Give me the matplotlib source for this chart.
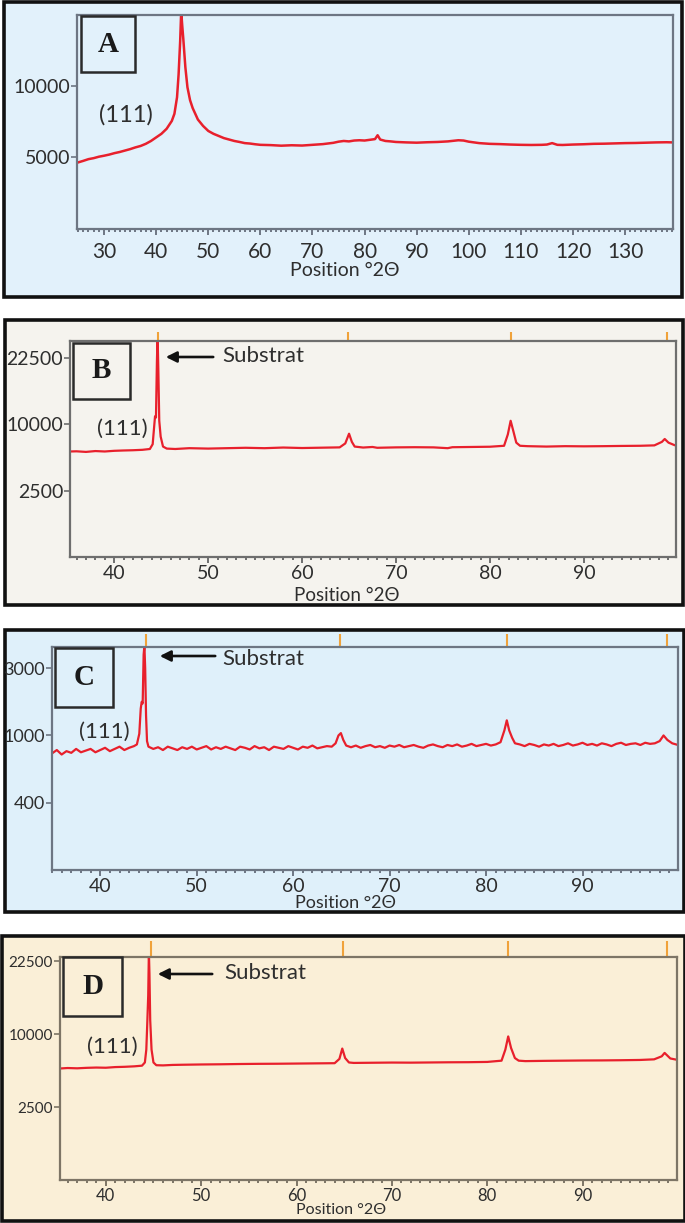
import numpy as np
import matplotlib
matplotlib.use("Agg")
import matplotlib.pyplot as plt
from matplotlib.patches import Rectangle, FancyArrowPatch
from matplotlib.ticker import FixedLocator, MultipleLocator, FormatStrFormatter

plt.rcParams['font.family'] = ['Lato', 'DejaVu Sans']

W, H = 685, 1223

# ---- data ----
a_x = [25, 26, 27, 28, 29, 30, 31, 32, 33, 34, 35, 36, 37, 38, 39, 40, 41, 42, 43, 43.5,
       44, 44.3, 44.6, 44.8, 45.0, 45.2, 45.6, 46, 46.5, 47, 48, 49, 50, 51, 52, 53, 54, 55,
       56, 57, 58, 59, 60, 62, 64, 66, 68, 70, 72, 74, 75, 76, 77, 78, 79, 80, 81, 82, 82.5,
       83, 84, 85, 86, 88, 90, 92, 94, 96, 98, 99, 100, 102, 104, 106, 108, 110, 112, 114,
       115, 116, 117, 118, 120, 122, 124, 126, 128, 130, 132, 134, 136, 138, 139]
a_y = [4650, 4760, 4880, 4950, 5050, 5120, 5200, 5300, 5380, 5480, 5580, 5700, 5800, 5950,
       6150, 6400, 6650, 7000, 7550, 8050, 9200, 10800, 13100, 15200, 14200, 13300, 11300,
       9900, 9000, 8450, 7650, 7200, 6850, 6650, 6500, 6350, 6250, 6150, 6080, 6000, 5970,
       5920, 5880, 5860, 5820, 5850, 5830, 5880, 5930, 6020, 6100, 6150, 6120, 6180, 6200,
       6180, 6230, 6280, 6550, 6250, 6150, 6120, 6080, 6050, 6030, 6060, 6080, 6120, 6200,
       6180, 6100, 6000, 5950, 5930, 5900, 5880, 5870, 5880, 5900, 6000, 5880, 5870, 5900,
       5920, 5950, 5960, 5980, 6000, 6010, 6030, 6050, 6060, 6050]

b_x = [35.3, 36, 37, 38, 39, 40, 41, 42, 43, 43.8, 44.1, 44.25, 44.35, 44.45, 44.55, 44.62,
       44.7, 44.8, 44.95, 45.2, 45.6, 46.5, 48, 50, 52, 54, 56, 58, 60, 62, 64, 64.6, 65.0,
       65.3, 65.6, 66.5, 67.5, 68, 70, 72, 74, 75.5, 76, 78, 80, 81.5, 81.9, 82.2, 82.5, 82.8,
       83.2, 84, 86, 88, 90, 92, 94, 96, 97.5, 98.3, 98.6, 99, 99.6]
b_y = [6300, 6320, 6250, 6350, 6300, 6380, 6420, 6450, 6500, 6600, 7200, 9500, 11200, 11000,
       21500, 28000, 20000, 10500, 8200, 6900, 6650, 6600, 6700, 6650, 6700, 6750, 6700,
       6780, 6720, 6760, 6800, 7300, 8600, 7500, 6900, 6780, 6850, 6750, 6800, 6820, 6800,
       6700, 6820, 6850, 6880, 7000, 8500, 10500, 8900, 7400, 7000, 6950, 6900, 6950, 6930,
       6950, 6980, 7000, 7050, 7500, 7880, 7400, 7100]

c_x = [35, 35.5, 36, 36.5, 37, 37.5, 38, 38.5, 39, 39.5, 40, 40.5, 41, 41.5, 42, 42.5, 43,
       43.5, 43.8, 44.05, 44.2, 44.3, 44.4, 44.5, 44.58, 44.66, 44.75, 44.85, 45.0, 45.5, 46,
       46.5, 47, 47.5, 48, 48.5, 49, 49.5, 50, 50.5, 51, 51.5, 52, 52.5, 53, 53.5, 54, 54.5,
       55, 55.5, 56, 56.5, 57, 57.5, 58, 58.5, 59, 59.5, 60, 60.5, 61, 61.5, 62, 62.5, 63,
       63.5, 64, 64.4, 64.7, 64.95, 65.2, 65.5, 66, 66.5, 67, 67.5, 68, 68.5, 69, 69.5, 70,
       70.5, 71, 71.5, 72, 72.5, 73, 73.5, 74, 74.5, 75, 75.5, 76, 76.5, 77, 77.5, 78, 78.5,
       79, 79.5, 80, 80.5, 81, 81.5, 81.9, 82.15, 82.4, 82.7, 83, 83.5, 84, 84.5, 85, 85.5,
       86, 86.5, 87, 87.5, 88, 88.5, 89, 89.5, 90, 90.5, 91, 91.5, 92, 92.5, 93, 93.5, 94,
       94.5, 95, 95.5, 96, 96.5, 97, 97.5, 98, 98.4, 98.8, 99.3, 99.9]
c_y = [840, 870, 830, 860, 845, 880, 850, 865, 880, 850, 870, 890, 860, 880, 900, 870, 890,
       905, 920, 1050, 1800, 2000, 1950, 3600, 4000, 3000, 1600, 950, 900, 880, 895,
       870, 900, 885, 870, 895, 880, 900, 875, 890, 905, 875, 895, 880, 900, 885, 870, 900,
       890, 875, 905, 885, 895, 870, 900, 890, 880, 905, 890, 875, 900, 890, 910, 885, 895,
       905, 900, 930, 1000, 1070, 960, 910, 895, 910, 890, 905, 915, 895, 905, 890, 910,
       900, 915, 895, 905, 915, 900, 890, 910, 920, 905, 895, 915, 905, 920, 900, 910, 925,
       905, 915, 925, 910, 920, 940, 1150, 1450, 1150, 980, 930, 920, 905, 925, 915, 900,
       920, 910, 925, 905, 915, 930, 910, 920, 935, 915, 925, 910, 930, 920, 905, 925, 935,
       915, 925, 930, 915, 935, 925, 930, 950, 1000, 960, 930, 915]

d_x = [35.2, 36, 37, 38, 39, 40, 41, 42, 43, 43.8, 44.1, 44.25, 44.35, 44.45, 44.52, 44.58,
       44.66, 44.8, 45.0, 45.3, 46, 47, 48, 50, 52, 54, 56, 58, 60, 62, 64, 64.5, 64.8, 65.1,
       65.5, 66, 68, 70, 72, 74, 76, 78, 80, 81.5, 81.9, 82.2, 82.5, 82.9, 83.3, 84, 86, 88,
       90, 92, 94, 96, 97.5, 98.3, 98.6, 99.2, 99.9]
d_y = [5850, 5900, 5870, 5920, 5950, 5930, 6000, 6030, 6080, 6150, 6500, 8000, 11500, 16000,
       24500, 20000, 12000, 8000, 6500, 6200, 6180, 6230, 6250, 6280, 6300, 6330, 6350, 6360,
       6380, 6400, 6420, 6900, 8130, 7000, 6500, 6450, 6470, 6490, 6480, 6500, 6520, 6530,
       6560, 6700, 8000, 9700, 8200, 7000, 6700, 6650, 6680, 6700, 6720, 6730, 6750, 6780,
       6850, 7200, 7600, 6950, 6800]

ref_lines = [44.7, 64.9, 82.2, 98.8]   # orange reference markers (B, C, D)

a_yticks = [5000, 10000]
bd_yticks = [2500, 10000, 22500]
c_yticks = [400, 1000, 3000]
# C axis: tick labels are evenly spaced on the plot
c_in = [0, 400, 1000, 3000, 6000]
c_out = [0, 20, 40, 60, 80]

red = '#e8202c'
orange = '#f0a23a'
txt = '#2e2e2e'


def fbox(l, t, r, b):
    return [l / W, 1 - b / H, (r - l) / W, (b - t) / H]


def frame(l, t, r, b, bg):
    fig.add_artist(Rectangle((l / W, 1 - b / H), (r - l) / W, (b - t) / H,
                             transform=fig.transFigure, facecolor=bg,
                             edgecolor='#111111', lw=2.6, zorder=0))


def letter_box(l, t, r, b, s):
    fig.add_artist(Rectangle((l / W, 1 - b / H), (r - l) / W, (b - t) / H,
                             transform=fig.transFigure, facecolor='none',
                             edgecolor='#2a2a2a', lw=1.8, zorder=5))
    fig.text((l + r) / 2 / W, 1 - (t + b) / 2 / H, s, ha='center', va='center',
             fontsize=21, fontweight='bold', family='Liberation Serif', color='#1a1a1a')


def ftext(x, y, s, size, **kw):
    fig.text(x / W, 1 - y / H, s, fontsize=size, color=txt, **kw)


def arrow(x0, x1, y):
    fig.add_artist(FancyArrowPatch(
        (x0 / W, 1 - y / H), (x1 / W, 1 - y / H), transform=fig.transFigure,
        arrowstyle='-|>', mutation_scale=16, lw=1.9, color='#111111', zorder=6))


def style(ax, bg, spine, xlim, tsize, ysize):
    ax.set_facecolor(bg)
    for s in ax.spines.values():
        s.set_color(spine)
        s.set_linewidth(1.6)
    ax.set_xlim(*xlim)
    ax.xaxis.set_major_locator(MultipleLocator(10))
    ax.xaxis.set_minor_locator(MultipleLocator(1))
    ax.tick_params(axis='x', which='major', length=4, width=1.4, color=spine,
                   labelsize=tsize, labelcolor=txt, pad=2)
    ax.tick_params(axis='x', which='minor', length=2, width=1.4, color=spine)
    ax.tick_params(axis='y', which='major', length=4, width=1.2, color=spine,
                   labelsize=ysize, labelcolor=txt, pad=1)
    ax.tick_params(axis='y', which='minor', length=0)


fig = plt.figure(figsize=(W / 100, H / 100), dpi=100)

# ---- panel A ----
bgA = '#e2f1fb'
frame(4, 2, 682, 297, bgA)
axA = fig.add_axes(fbox(77, 15, 673, 229))
style(axA, bgA, '#6d7683', (24.8, 139.2), 15, 14)
axA.tick_params(axis='x', which='major', pad=5)
axA.plot(a_x, a_y, color=red, lw=1.8)
axA.set_ylim(0, 14950)
axA.yaxis.set_major_locator(FixedLocator(a_yticks))
letter_box(81, 16, 135, 72, 'A')
ftext(126, 115, '(111)', 17, ha='center', va='center')
ftext(345, 271, 'Position °2Θ', 14, ha='center', va='center')

# ---- panel B ----
bgB = '#f5f3ee'
frame(5, 320, 683, 605, bgB)
axB = fig.add_axes(fbox(70, 341, 676, 557))
style(axB, bgB, '#6e6e6e', (35.3, 99.8), 14, 14)
axB.set_yscale('function', functions=(np.sqrt, np.square))
axB.plot(b_x, b_y, color=red, lw=1.6)
axB.set_ylim(0, 26400)
axB.yaxis.set_major_locator(FixedLocator(bd_yticks))
axB.yaxis.set_major_formatter(FormatStrFormatter('%d'))
axB.vlines(ref_lines, 1.0, 1.04, transform=axB.get_xaxis_transform(),
           colors=orange, lw=1.5, clip_on=False)
letter_box(73, 343, 130, 399, 'B')
ftext(122, 429, '(111)', 16, ha='center', va='center')
arrow(216, 163, 357)
ftext(222, 356, 'Substrat', 16, ha='left', va='center')
ftext(347, 596, 'Position °2Θ', 13.5, ha='center', va='center')

# ---- panel C ----
bgC = '#dff0fa'
frame(5, 630, 684, 912, bgC)
axC = fig.add_axes(fbox(52, 647, 678, 870))
style(axC, bgC, '#6d7683', (35.0, 99.9), 14, 13)
axC.set_yscale('function', functions=(lambda v: np.interp(v, c_in, c_out),
                                      lambda u: np.interp(u, c_out, c_in)))
axC.plot(c_x, c_y, color=red, lw=1.6)
axC.set_ylim(0, 3945)
axC.yaxis.set_major_locator(FixedLocator(c_yticks))
axC.yaxis.set_major_formatter(FormatStrFormatter('%d'))
axC.vlines(ref_lines, 1.0, 1.06, transform=axC.get_xaxis_transform(),
           colors=orange, lw=1.5, clip_on=False)
letter_box(55, 648, 113, 707, 'C')
ftext(104, 732, '(111)', 16, ha='center', va='center')
arrow(218, 157, 656)
ftext(222, 659, 'Substrat', 16, ha='left', va='center')
ftext(345, 903, 'Position °2Θ', 13, ha='center', va='center')

# ---- panel D ----
bgD = '#faefd7'
frame(2, 936, 685, 1221, bgD)
axD = fig.add_axes(fbox(60, 957, 677, 1180))
style(axD, bgD, '#7d7566', (35.2, 99.9), 12, 11)
axD.set_yscale('function', functions=(np.sqrt, np.square))
axD.plot(d_x, d_y, color=red, lw=1.6)
axD.set_ylim(0, 23400)
axD.yaxis.set_major_locator(FixedLocator(bd_yticks))
axD.yaxis.set_major_formatter(FormatStrFormatter('%d'))
axD.vlines(ref_lines, 1.0, 1.07, transform=axD.get_xaxis_transform(),
           colors=orange, lw=1.5, clip_on=False)
letter_box(63, 957, 122, 1016, 'D')
ftext(112, 1047, '(111)', 16, ha='center', va='center')
arrow(215, 155, 974)
ftext(224, 973, 'Substrat', 16, ha='left', va='center')
ftext(341, 1210, 'Position °2Θ', 11.5, ha='center', va='center')

fig.savefig('out.png', dpi=100)
